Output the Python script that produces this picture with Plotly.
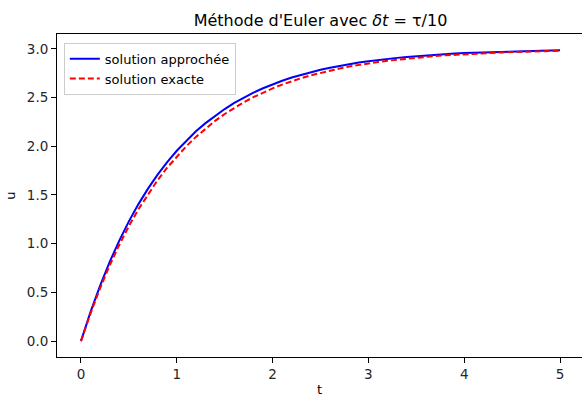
import plotly.graph_objects as go

t = [round(0.1 * i, 1) for i in range(51)]

u_approchee = [0.000, 0.300, 0.570, 0.813, 1.032, 1.229, 1.406, 1.565, 1.709, 1.838,
               1.954, 2.059, 2.153, 2.237, 2.314, 2.382, 2.444, 2.500, 2.550, 2.595,
               2.635, 2.672, 2.705, 2.734, 2.761, 2.785, 2.806, 2.826, 2.843, 2.859,
               2.873, 2.886, 2.897, 2.907, 2.917, 2.925, 2.932, 2.939, 2.945, 2.951,
               2.956, 2.960, 2.964, 2.968, 2.971, 2.974, 2.976, 2.979, 2.981, 2.983,
               2.985]

u_exacte = [0.000, 0.285, 0.544, 0.778, 0.989, 1.180, 1.354, 1.510, 1.652, 1.780,
            1.896, 2.001, 2.096, 2.182, 2.260, 2.331, 2.394, 2.452, 2.504, 2.551,
            2.594, 2.633, 2.668, 2.699, 2.728, 2.754, 2.777, 2.798, 2.818, 2.835,
            2.851, 2.865, 2.878, 2.889, 2.900, 2.909, 2.918, 2.926, 2.933, 2.939,
            2.945, 2.950, 2.955, 2.959, 2.963, 2.967, 2.970, 2.973, 2.975, 2.978,
            2.980]

x_ticks = [0, 1, 2, 3, 4, 5]
y_ticks = [0.0, 0.5, 1.0, 1.5, 2.0, 2.5, 3.0]
y_ticklabels = ["0.0", "0.5", "1.0", "1.5", "2.0", "2.5", "3.0"]

font = "DejaVu Sans, sans-serif"

fig = go.Figure()
fig.add_trace(go.Scatter(x=t, y=u_approchee, mode="lines", name="solution approchée",
                         line=dict(color="#0000ff", width=2)))
fig.add_trace(go.Scatter(x=t, y=u_exacte, mode="lines", name="solution exacte",
                         line=dict(color="#ff0000", width=2, dash="6px,3px")))

fig.update_layout(
    width=582, height=397,
    margin=dict(l=57, r=0, t=34, b=40),
    paper_bgcolor="white", plot_bgcolor="white",
    font=dict(family=font, size=13, color="#262626"),
    title=dict(text="Méthode d'Euler avec <i>δt</i> = τ/10", x=(320.5) / 582, xanchor="center",
               y=1 - 20 / 397, yanchor="middle", font=dict(size=16, color="#000000")),
    showlegend=True,
    legend=dict(x=0.013, y=0.973, xanchor="left", yanchor="top",
                bgcolor="rgba(255,255,255,0.8)", bordercolor="#cccccc", borderwidth=1,
                font=dict(size=13, color="#000000"), tracegroupgap=0, itemwidth=30),
)

fig.update_xaxes(range=[-0.25, 5.229], tickvals=x_ticks, ticktext=[str(v) for v in x_ticks],
                 showgrid=False, zeroline=False, showline=True, linecolor="#000000", linewidth=1,
                 mirror=True, ticks="outside", ticklen=5, tickcolor="#000000", tickwidth=1,
                 automargin=False, tickfont=dict(size=13.5),
                 title=dict(text="t", font=dict(size=13, color="#000000"), standoff=6))
fig.update_yaxes(range=[-0.163, 3.152], tickvals=y_ticks, ticktext=y_ticklabels,
                 showgrid=False, zeroline=False, showline=True, linecolor="#000000", linewidth=1,
                 mirror=False, ticks="outside", ticklen=5, tickcolor="#000000", tickwidth=1,
                 automargin=False, tickfont=dict(size=13.5),
                 title=dict(text="u", font=dict(size=13, color="#000000"), standoff=8))

fig.write_html("out.html", config={"displayModeBar": False},
               post_script="document.body.style.margin='0';document.body.style.overflow='hidden';")
